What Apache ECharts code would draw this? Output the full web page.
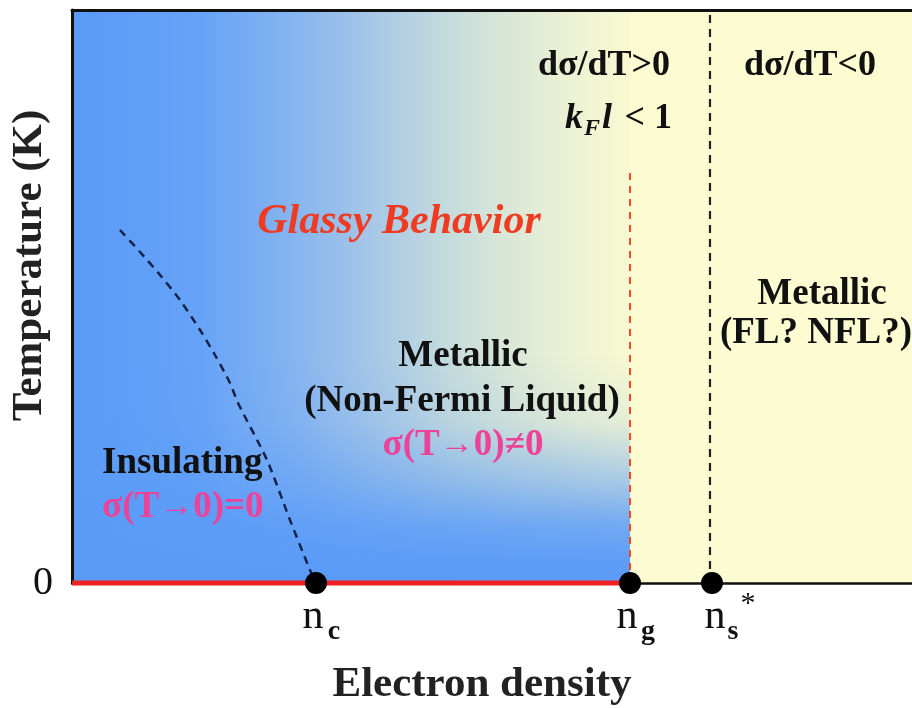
<!DOCTYPE html>
<html><head><meta charset="utf-8">
<script src="https://cdn.jsdelivr.net/npm/echarts@6/dist/echarts.min.js"></script>
<style>html,body{margin:0;padding:0;background:#fff}#c{width:912px;height:708px}</style>
</head><body><div id="c"></div>
<script>
// ---- data (x: electron density, arbitrary 0..100; y: temperature, arbitrary 0..100)
const curveN = [5.71, 8.10, 10.48, 12.86, 15.24, 17.02, 18.81, 19.76, 23.21, 25.95, 28.33, 29.05];
const curveT = [61.61, 57.77, 53.75, 49.39, 44.15, 39.79, 34.90, 31.41, 21.47, 11.00, 2.27, 0];
const nC = 29.05, nG = 66.43, nS = 76.19, nSline = 75.95;
const glassyTopT = 71.7;
const pointN = [nC, nG, nS];
const pointSub = ['c', 'g', 's'];
const yTicks = [0];

const SERIF = '"Liberation Serif","Times New Roman",serif';
const chart = echarts.init(document.getElementById('c'), null, {renderer: 'canvas'});

function txt(text, x, y, size, opts) {
  opts = opts || {};
  const font = (opts.style || 'normal') + ' ' + (opts.weight || 'bold') + ' ' + size + 'px ' + SERIF;
  const st = {
    text: text, x: x, y: y,
    font: font,
    fill: opts.color || '#111',
    textAlign: opts.align || 'center',
    textVerticalAlign: 'middle'
  };
  if (opts.rich) {
    st.rich = opts.rich;
  }
  return {type: 'text', z: 100, style: st};
}
function sigmaRich(color) {
  return {
    a: {fontFamily: SERIF, fontWeight: 'bold', fontSize: 37, fill: color, color: color},
    b: {fontFamily: SERIF, fontWeight: 'bold', fontSize: 34, fill: color, color: color}
  };
}

const option = {
  animation: false,
  grid: {left: 72, top: 10, right: 0, bottom: 125, show: true, backgroundColor: '#fcfbd1', borderWidth: 0,
         containLabel: false, outerBoundsMode: 'none'},
  xAxis: [{
    type: 'value', min: 0, max: 100, position: 'bottom', z: 10,
    axisLine: {show: true, lineStyle: {color: '#111', width: 2.5}},
    axisTick: {show: false}, axisLabel: {show: false}, splitLine: {show: false},
    name: 'Electron density', nameLocation: 'middle', nameGap: 80, nameMoveOverlap: false,
    nameTextStyle: {fontFamily: SERIF, fontWeight: 'bold', fontSize: 43, color: '#222', padding: [0, 20, 0, 0]}
  }, {
    type: 'value', min: 0, max: 100, position: 'top', z: 10,
    axisLine: {show: true, lineStyle: {color: '#111', width: 3}},
    axisTick: {show: false}, axisLabel: {show: false}, splitLine: {show: false}
  }],
  yAxis: {
    type: 'value', min: 0, max: 100, interval: 100, z: 10,
    axisLine: {show: true, lineStyle: {color: '#111', width: 3}},
    axisTick: {show: false}, splitLine: {show: false},
    axisLabel: {
      margin: 19, fontFamily: SERIF, fontSize: 40, color: '#111',
      formatter: v => (yTicks.indexOf(v) >= 0 ? String(v) : '')
    },
    name: 'Temperature (K)', nameLocation: 'middle', nameGap: 21, nameMoveOverlap: false,
    nameTextStyle: {fontFamily: SERIF, fontWeight: 'bold', fontSize: 43, color: '#222', padding: [0, 0, 0, 62]}
  },
  series: [
    {
      type: 'line', data: [], silent: true, z: 1,
      markArea: {
        silent: true, label: {show: false},
        itemStyle: {
          color: {type: 'linear', x: 0, y: 0, x2: 1, y2: 0, colorStops: [
            {offset: 0, color: '#5a9bf8'},
            {offset: 0.23, color: '#66a3f7'},
            {offset: 0.41, color: '#88b6ef'},
            {offset: 0.55, color: '#a9c9e6'},
            {offset: 0.68, color: '#c6dcdc'},
            {offset: 0.80, color: '#dde9d6'},
            {offset: 0.91, color: '#eef3d3'},
            {offset: 1, color: '#f8f9d1'}
          ]}
        },
        data: [[{coord: [0, 0]}, {coord: [nG, 100]}]]
      }
    },
    {
      type: 'line', data: [], silent: true, z: 2,
      markArea: {
        silent: true, label: {show: false},
        itemStyle: {
          color: {type: 'linear', x: 0, y: 0, x2: 0, y2: 1, colorStops: [
            {offset: 0, color: 'rgba(90,155,248,0)'},
            {offset: 0.3, color: 'rgba(90,155,248,0.12)'},
            {offset: 0.55, color: 'rgba(90,155,248,0.5)'},
            {offset: 0.75, color: 'rgba(90,155,248,0.85)'},
            {offset: 0.9, color: 'rgba(90,155,248,0.97)'},
            {offset: 1, color: 'rgba(90,155,248,1)'}
          ]}
        },
        data: [[{coord: [0, 0]}, {coord: [nG, 40]}]]
      }
    },
    {
      name: 'crossover', type: 'line', smooth: 0.25, symbol: 'none', z: 5,
      data: curveN.map((n, i) => [n, curveT[i]]),
      lineStyle: {color: '#13224a', width: 2.5, type: [8, 6]}
    },
    {
      name: 'glass', type: 'line', symbol: 'none', z: 5,
      data: [[nG, 0], [nG, glassyTopT]],
      lineStyle: {color: '#ee4a2a', width: 2, type: [7, 6]}
    },
    {
      name: 'ns', type: 'line', symbol: 'none', z: 5,
      data: [[nSline, 0], [nSline, 100]],
      lineStyle: {color: '#222', width: 2.2, type: [8, 6]}
    },
    {
      name: 'zeroT', type: 'line', symbol: 'none', z: 12, clip: false,
      data: [[0, 0], [nG, 0]],
      lineStyle: {color: '#ee2222', width: 5}
    },
    {
      name: 'points', type: 'scatter', z: 14, clip: false,
      symbolSize: 22,
      itemStyle: {color: '#000', opacity: 1},
      data: pointN.map(n => [n, 0])
    }
  ],
  graphic: [
    txt('dσ/dT>0', 604, 66, 36),
    txt('dσ/dT<0', 810, 66, 36),
    txt('k', 574, 119, 36, {style: 'italic'}),
    txt('F', 592, 129, 24, {style: 'italic'}),
    txt('l', 607, 119, 36, {style: 'italic'}),
    txt('< 1', 672, 119, 36, {align: 'right'}),
    txt('Glassy Behavior', 399, 222, 42, {style: 'italic', color: '#ee3b22'}),
    txt('Metallic', 463, 356, 37),
    txt('(Non-Fermi Liquid)', 462, 401, 37),
    txt('{a|σ(T}{b|→}{a|0)≠0}', 463, 445, 37, {color: '#ec4399', rich: sigmaRich('#ec4399')}),
    txt('Insulating', 102, 463, 37, {align: 'left'}),
    txt('{a|σ(T}{b|→}{a|0)=0}', 102, 507, 37, {align: 'left', color: '#ec4399', rich: sigmaRich('#ec4399')}),
    txt('Metallic', 822, 294, 37),
    txt('(FL? NFL?)', 816, 333, 37),
    txt('n', 313, 617, 42, {weight: 'normal'}),
    txt(pointSub[0], 334, 632, 28),
    txt('n', 627, 617, 42, {weight: 'normal'}),
    txt(pointSub[1], 648, 632, 28),
    txt('n', 715, 617, 42, {weight: 'normal'}),
    txt(pointSub[2], 733, 632, 28),
    txt('*', 748, 604, 30, {weight: 'normal'})
  ]
};
chart.setOption(option);
</script></body></html>
